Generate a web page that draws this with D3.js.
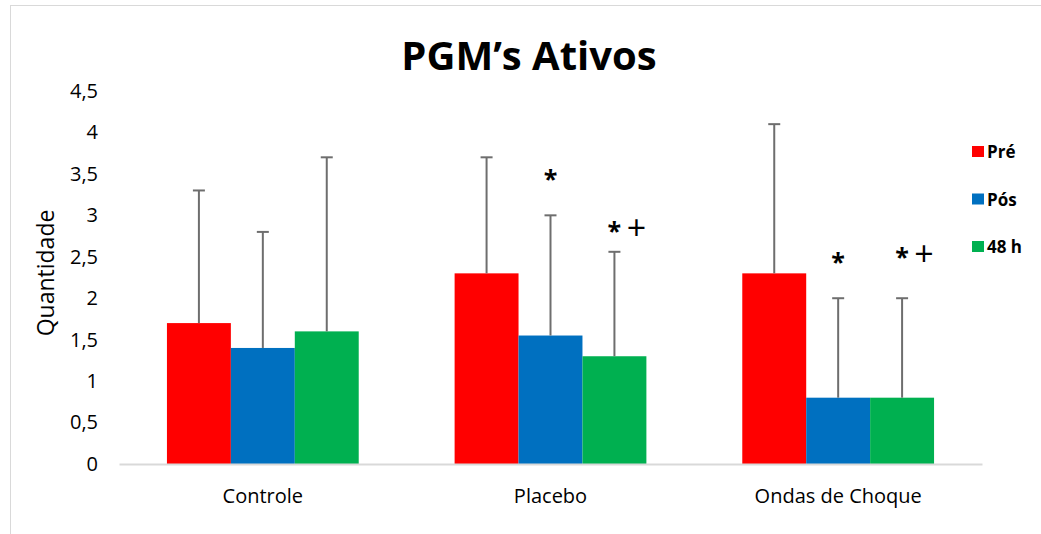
<!DOCTYPE html>
<html>
<head>
<meta charset="utf-8">
<script src="https://cdn.jsdelivr.net/npm/d3@7/dist/d3.min.js"></script>
<style>
  html, body { margin: 0; padding: 0; background: #fff; }
  svg { display: block; font-family: "Open Sans", "Noto Sans", sans-serif; }
</style>
</head>
<body>
<svg id="chart" width="1041" height="534"></svg>
<script>
// Grupos, séries e valores (média e desvio padrão)
const categories = ["Controle", "Placebo", "Ondas de Choque"];
const seriesNames = ["Pré", "Pós", "48 h"];
const seriesColors = ["#ff0000", "#0070c0", "#00b050"];
const preMeans = [1.7, 2.3, 2.3];
const posMeans = [1.4, 1.55, 0.8];
const h48Means = [1.6, 1.3, 0.8];
const preSD = [1.6, 1.4, 1.8];
const posSD = [1.4, 1.45, 1.2];
const h48SD = [2.1, 1.26, 1.2];
// Marcas de significância por série: * (vs. Pré) e + (vs. Pós)
const posMarks = ["", "*", "*"];
const h48Marks = ["", "*+", "*+"];
const yTicks = [0, 0.5, 1, 1.5, 2, 2.5, 3, 3.5, 4, 4.5];

const means = [preMeans, posMeans, h48Means];
const sds = [preSD, posSD, h48SD];
const marks = [["", "", ""], posMarks, h48Marks];
// Distância (px) entre o topo da barra de erro e o centro da marca
const markGap = [[0, 0, 0], [0, 38, 38], [0, 23, 43]];

const svg = d3.select("#chart");
const W = 1041, H = 534;

// Moldura da área do gráfico
svg.append("rect")
  .attr("x", 10.5).attr("y", 5.5)
  .attr("width", W).attr("height", H)
  .attr("fill", "#fff").attr("stroke", "#d9d9d9").attr("stroke-width", 1);

const plot = { left: 119, right: 982, top: 91, bottom: 464 };

const x0 = d3.scaleBand()
  .domain(categories)
  .range([plot.left, plot.right])
  .paddingInner(0)
  .paddingOuter(0);

// Espaçamento de 150% da largura da barra: 3 barras + 1,5 barras por grupo
const groupInner = x0.bandwidth() * 3 / 4.5;
const x1 = d3.scaleBand()
  .domain(seriesNames)
  .range([0, groupInner]);

const y = d3.scaleLinear().domain([0, 4.5]).range([plot.bottom, plot.top]);

// Eixo Y (apenas rótulos)
const yAxis = d3.axisLeft(y)
  .tickValues(yTicks)
  .tickSize(0)
  .tickPadding(0)
  .tickFormat(d => String(d).replace(".", ","));
const gy = svg.append("g")
  .attr("transform", `translate(98,0)`)
  .call(yAxis);
gy.select(".domain").remove();
gy.selectAll("text")
  .attr("font-size", 20)
  .attr("fill", "#000")
  .attr("font-family", "'Open Sans', sans-serif");

// Título do eixo Y
svg.append("text")
  .attr("transform", `translate(54,273) rotate(-90)`)
  .attr("text-anchor", "middle")
  .attr("font-size", 23)
  .attr("fill", "#000")
  .text("Quantidade");

// Barras
const groups = svg.append("g").selectAll("g")
  .data(categories)
  .join("g")
  .attr("transform", d => `translate(${x0(d) + (x0.bandwidth() - groupInner) / 2},0)`);

groups.each(function (cat, ci) {
  const g = d3.select(this);
  seriesNames.forEach((s, si) => {
    const v = means[si][ci];
    const sd = sds[si][ci];
    const bx = x1(s);
    const bw = x1.bandwidth();
    g.append("rect")
      .attr("x", bx)
      .attr("y", y(v))
      .attr("width", bw)
      .attr("height", y(0) - y(v))
      .attr("fill", seriesColors[si]);
    // Barra de erro (somente positiva)
    const cx = bx + bw / 2;
    const top = y(v + sd);
    g.append("line")
      .attr("x1", cx).attr("x2", cx)
      .attr("y1", y(v)).attr("y2", top)
      .attr("stroke", "#6e6e6e").attr("stroke-width", 2);
    g.append("line")
      .attr("x1", cx - 6).attr("x2", cx + 6)
      .attr("y1", top).attr("y2", top)
      .attr("stroke", "#6e6e6e").attr("stroke-width", 2);
    const m = marks[si][ci];
    if (m) {
      const cy = top - markGap[si][ci];
      if (m.includes("*")) {
        g.append("text")
          .attr("x", cx)
          .attr("y", cy + 11)
          .attr("text-anchor", "middle")
          .attr("font-size", 25)
          .attr("font-weight", "bold")
          .attr("fill", "#000")
          .text("*");
      }
      if (m.includes("+")) {
        g.append("text")
          .attr("x", cx + 22)
          .attr("y", cy + 11)
          .attr("text-anchor", "middle")
          .attr("font-size", 34)
          .attr("fill", "#000")
          .text("+");
      }
    }
  });
});

// Eixo X
const xAxis = d3.axisBottom(x0).tickSize(0).tickPadding(25);
const gx = svg.append("g")
  .attr("transform", `translate(0,${plot.bottom})`)
  .call(xAxis);
gx.select(".domain")
  .attr("stroke", "#d9d9d9").attr("stroke-width", 2);
gx.selectAll("text")
  .attr("font-size", 20)
  .attr("fill", "#000")
  .attr("font-family", "'Open Sans', sans-serif");

// Título
svg.append("text")
  .attr("x", 529)
  .attr("y", 70)
  .attr("text-anchor", "middle")
  .attr("font-size", 40)
  .attr("font-weight", "bold")
  .attr("fill", "#000")
  .text("PGM’s Ativos");

// Legenda
const legend = svg.append("g").attr("transform", "translate(972,146)");
seriesNames.forEach((s, i) => {
  const row = legend.append("g").attr("transform", `translate(0,${i * 47.5})`);
  row.append("rect")
    .attr("x", 0).attr("y", 0)
    .attr("width", 12).attr("height", 11)
    .attr("fill", seriesColors[i]);
  row.append("text")
    .attr("x", 15).attr("y", 12)
    .attr("font-size", 17)
    .attr("font-weight", "bold")
    .attr("fill", "#000")
    .text(s);
});
</script>
</body>
</html>
